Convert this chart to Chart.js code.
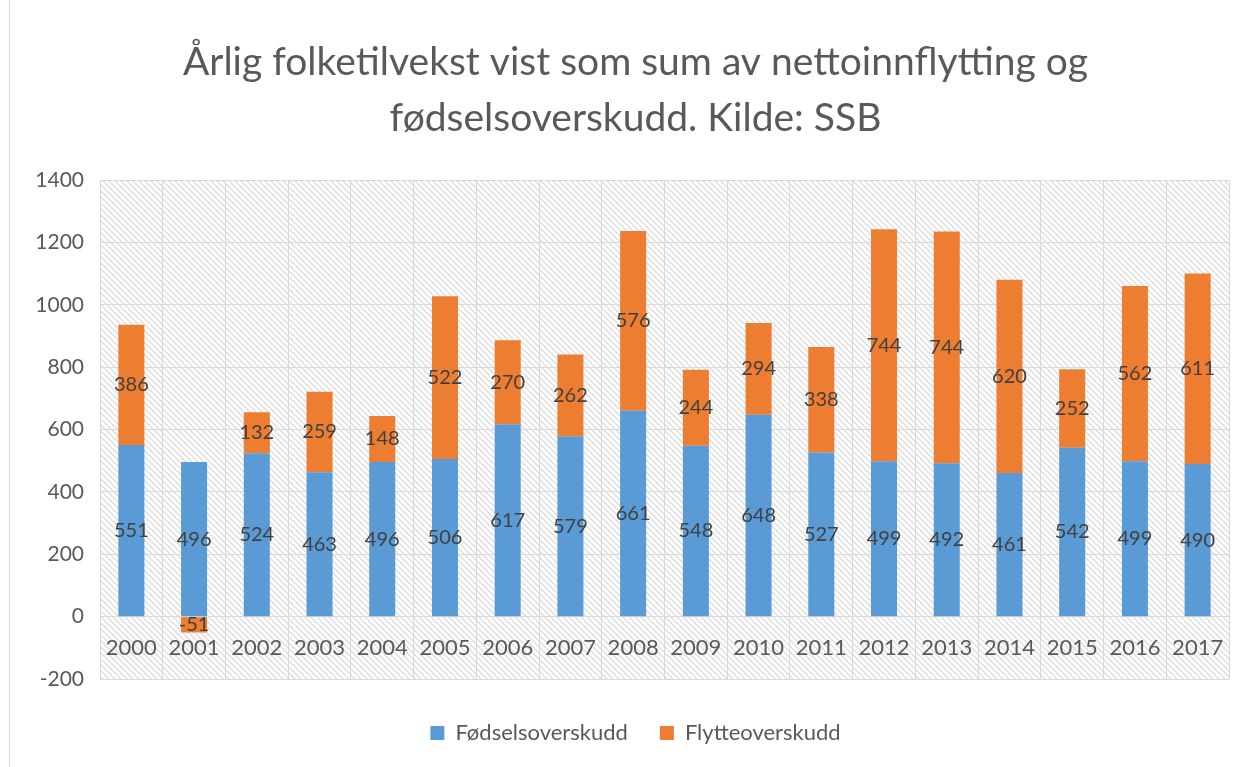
<!DOCTYPE html>
<html>
<head>
<meta charset="utf-8">
<script src="https://cdn.jsdelivr.net/npm/chart.js@4"></script>
<style>
  body { margin: 0; background: #fff; }
  #wrap { width: 1255px; height: 767px; }
</style>
</head>
<body>
<div id="wrap"><canvas id="folkChart" width="1255" height="767"></canvas></div>
<script>
const years = ["2000", "2001", "2002", "2003", "2004", "2005", "2006", "2007", "2008",
  "2009", "2010", "2011", "2012", "2013", "2014", "2015", "2016", "2017"];
const fodsel = [551, 496, 524, 463, 496, 506, 617, 579, 661, 548, 648, 527, 499, 492, 461, 542, 499, 490];
const flytte = [386, -51, 132, 259, 148, 522, 270, 262, 576, 244, 294, 338, 744, 744, 620, 252, 562, 611];

const textColor = '#595959';
const gridColor = '#d9d9d9';
const font = 'Lato, "Open Sans", sans-serif';

// hatched background pattern for the plot area
function makeHatch() {
  const c = document.createElement('canvas');
  c.width = 6; c.height = 6;
  const g = c.getContext('2d');
  g.fillStyle = '#fff';
  g.fillRect(0, 0, 6, 6);
  g.strokeStyle = '#dcdcdc';
  g.lineWidth = 1.3;
  g.beginPath();
  g.moveTo(-1, -1); g.lineTo(7, 7);
  g.moveTo(-4, 2); g.lineTo(4, 10);
  g.moveTo(2, -4); g.lineTo(10, 4);
  g.stroke();
  return c;
}

const bgPlugin = {
  id: 'bg',
  beforeDraw(chart) {
    const { ctx, chartArea: a } = chart;
    ctx.save();
    ctx.fillStyle = ctx.createPattern(makeHatch(), 'repeat');
    ctx.fillRect(a.left, a.top, a.right - a.left, a.bottom - a.top);
    ctx.strokeStyle = gridColor;
    ctx.lineWidth = 1;
    ctx.beginPath();
    ctx.moveTo(9.5, 0); ctx.lineTo(9.5, chart.height);
    ctx.stroke();
    ctx.restore();
  }
};

// year labels sit inside the plot, in the band between 0 and -200
const yearLabels = {
  id: 'yearLabels',
  afterDatasetsDraw(chart) {
    const { ctx, scales: { x, y } } = chart;
    ctx.save();
    ctx.font = '22px ' + font;
    ctx.fillStyle = textColor;
    ctx.textAlign = 'center';
    ctx.textBaseline = 'middle';
    const yy = y.getPixelForValue(-100);
    years.forEach((yr, i) => ctx.fillText(yr, x.getPixelForValue(i), yy));
    ctx.restore();
  }
};

const valueLabels = {
  id: 'valueLabels',
  afterDatasetsDraw(chart) {
    const { ctx } = chart;
    ctx.save();
    ctx.font = '20px ' + font;
    ctx.fillStyle = '#404040';
    ctx.textAlign = 'center';
    ctx.textBaseline = 'middle';
    chart.data.datasets.forEach((ds, di) => {
      chart.getDatasetMeta(di).data.forEach((bar, i) => {
        const mid = (bar.y + bar.base) / 2;
        ctx.fillText(String(ds.data[i]), bar.x, mid);
      });
    });
    ctx.restore();
  }
};

new Chart(document.getElementById('folkChart'), {
  type: 'bar',
  data: {
    labels: years,
    datasets: [
      { label: 'Fødselsoverskudd', data: fodsel, backgroundColor: '#5B9BD5' },
      { label: 'Flytteoverskudd', data: flytte, backgroundColor: '#ED7D31' }
    ]
  },
  options: {
    responsive: false,
    animation: false,
    layout: { padding: { left: 31, right: 15, top: 0, bottom: 13 } },
    datasets: { bar: { categoryPercentage: 1, barPercentage: 0.415 } },
    plugins: {
      title: {
        display: true,
        text: ['Årlig folketilvekst vist som sum av nettoinnflytting og', 'fødselsoverskudd. Kilde: SSB'],
        color: textColor,
        font: { family: font, size: 39, weight: 'normal', lineHeight: 1.44 },
        padding: { top: 34, bottom: 34 }
      },
      legend: {
        position: 'bottom',
        labels: {
          color: textColor,
          font: { family: font, size: 22 },
          boxWidth: 14,
          boxHeight: 14,
          padding: 32
        }
      },
      tooltip: { enabled: false }
    },
    scales: {
      x: {
        stacked: true,
        ticks: { display: false },
        grid: { offset: true, color: gridColor, drawTicks: false },
        border: { color: gridColor },
        afterFit(scale) { scale.height = 11; }
      },
      y: {
        stacked: true,
        min: -200,
        max: 1400,
        ticks: {
          stepSize: 200, color: textColor, font: { family: font, size: 21 }, padding: 16,
          callback: v => String(v)
        },
        grid: { color: gridColor, drawTicks: false },
        border: { display: false },
        afterFit(scale) { scale.width = 69; }
      },
      // empty right-hand spacer so the plot ends where the reference does
      yRight: {
        position: 'right',
        ticks: { display: false },
        grid: { display: false },
        border: { display: false },
        afterFit(scale) { scale.width = 11; }
      }
    }
  },
  plugins: [bgPlugin, yearLabels, valueLabels]
});
</script>
</body>
</html>
